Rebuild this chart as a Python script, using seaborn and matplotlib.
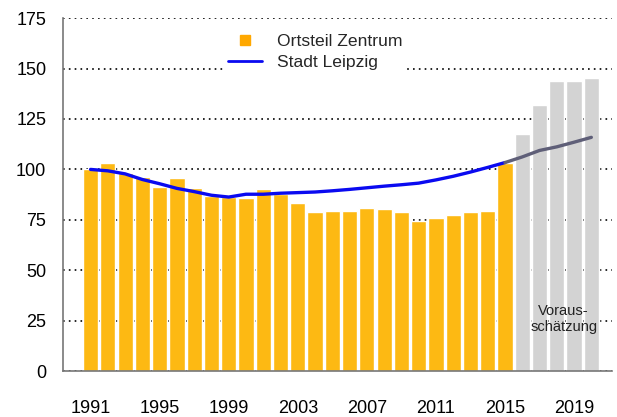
import numpy as np
import pandas as pd
import matplotlib
matplotlib.use("Agg")
import matplotlib.pyplot as plt
from matplotlib.lines import Line2D
import seaborn as sns

# data
years = list(range(1991, 2021))
zentrum = [100, 103.1, 98.2, 96.2, 91.3, 95.7, 90.8, 86.8, 86.3, 85.8,
           90.3, 87.7, 83.4, 78.7, 79.2, 79.4, 80.8, 80.4, 78.9, 74.2,
           76.0, 77.4, 78.9, 79.4, 103.4, 117.4, 131.7, 143.7, 143.7, 145.1]
kind = ["Ist"] * 25 + ["Prognose"] * 5
leipzig = [100, 99.3, 97.8, 95.0, 92.9, 90.6, 89.0, 87.2, 86.3, 87.7,
           87.7, 88.2, 88.5, 88.8, 89.4, 90.1, 90.9, 91.7, 92.4, 93.2,
           94.8, 96.6, 98.7, 101.0, 103.4, 106.2, 109.4, 111.2, 113.5, 115.9]
yticks = [0, 25, 50, 75, 100, 125, 150, 175]
xlabels = [1991, 1995, 1999, 2003, 2007, 2011, 2015, 2019]

ORANGE = "#FDB913"
GRAY = "#D3D3D3"
BLUE = "#0A0AF0"
SLATE = "#5F5F78"

df = pd.DataFrame({"Jahr": years, "Zentrum": zentrum, "Art": kind, "Leipzig": leipzig})

sns.set_style("white")
plt.rcParams["font.family"] = ["Liberation Sans", "DejaVu Sans"]

fig = plt.figure(figsize=(6.17, 4.17), dpi=100)
ax = fig.add_axes([0.102, 0.110, 0.890, 0.8465])
ax.set_axisbelow(True)

sns.barplot(data=df, x="Jahr", y="Zentrum", hue="Art", palette={"Ist": ORANGE, "Prognose": GRAY},
            native_scale=True, dodge=False, width=0.88, saturation=1, legend=False, ax=ax)

hist = df[df["Jahr"] <= 2015]
prog = df[df["Jahr"] >= 2015]
sns.lineplot(data=hist, x="Jahr", y="Leipzig", color=BLUE, lw=2.4, ax=ax)
sns.lineplot(data=prog, x="Jahr", y="Leipzig", color=SLATE, lw=2.4, ax=ax)

ax.set_xlim(1989.4, 2021.2)
ax.set_ylim(0, 175)
ax.set_yticks(yticks)
ax.set_xticks(years)
ax.set_xticklabels([str(y) if y in xlabels else "" for y in years])
ax.set_xlabel("")
ax.set_ylabel("")
ax.tick_params(axis="both", labelsize=13, colors="black", direction="out")
ax.tick_params(axis="y", length=8, width=1, color="#444444", pad=4)
ax.tick_params(axis="x", length=10, width=1, color="#444444", pad=11)
ax.yaxis.grid(True, color="black", linestyle=(0, (1, 2.5)), linewidth=1.2)
for s in ["top", "right"]:
    ax.spines[s].set_visible(False)
for s in ["left", "bottom"]:
    ax.spines[s].set_color("#777777")
    ax.spines[s].set_linewidth(1.2)

ax.text(2018.4, 26, "Voraus-\nschätzung", ha="center", va="center", fontsize=10.5,
        color="#222222", linespacing=1.2)

handles = [Line2D([], [], marker="s", color="#FFA800", linestyle="none", markersize=7),
           Line2D([], [], color=BLUE, lw=2)]
leg = ax.legend(handles, ["Ortsteil Zentrum", "Stadt Leipzig"], loc="upper left",
                bbox_to_anchor=(0.293, 0.969), frameon=True, fontsize=12.6,
                handlelength=1.95, handletextpad=0.85, labelspacing=0.35, borderpad=0.25,
                borderaxespad=0)
leg.get_frame().set_facecolor("white")
leg.get_frame().set_edgecolor("none")
leg.get_frame().set_alpha(1)

fig.savefig("out.png", dpi=100)
